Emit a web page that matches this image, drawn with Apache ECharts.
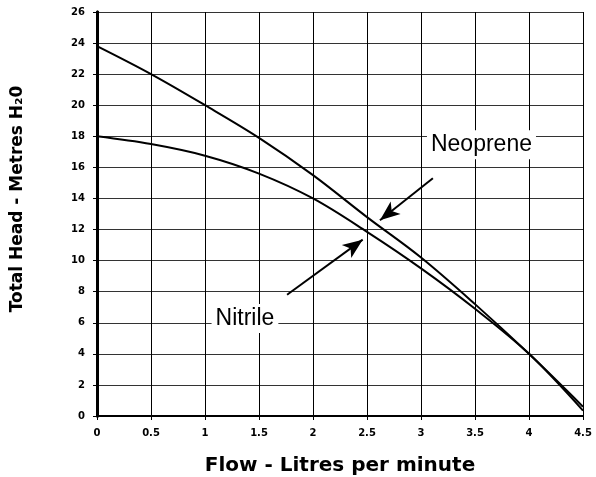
<!DOCTYPE html>
<html>
<head>
<meta charset="utf-8">
<script src="https://cdn.jsdelivr.net/npm/echarts@6/dist/echarts.min.js"></script>
<style>
  html, body { margin: 0; padding: 0; background: #fff; }
  #chart { width: 596px; height: 477px; }
</style>
</head>
<body>
<div id="chart"></div>
<script>
// flow in litres per minute
const flow = [0, 0.5, 1, 1.5, 2, 2.5, 3, 3.5, 4, 4.5]
// total head in metres
const neoprene = [23.8, 22.0, 20.0, 17.9, 15.5, 12.8, 10.2, 7.2, 4.0, 0.6]
const nitrile = [18.0, 17.5, 16.75, 15.6, 14.0, 11.85, 9.5, 6.9, 4.0, 0.35]

// annotation labels and arrows (data coords)
const labelNames = ['Neoprene', 'Nitrile']
const labelPos = [[3.56, 17.46], [1.37, 6.27]]
const arrowFrom = [[3.11, 15.3], [1.76, 7.8]]
const arrowTo = [[2.62, 12.6], [2.46, 11.35]]

const font = 'Liberation Sans, Arial, sans-serif'
const boldFont = 'DejaVu Sans, sans-serif'

const chart = echarts.init(document.getElementById('chart'), null, { renderer: 'canvas' })

function pairs(ys) {
  return flow.map((x, i) => [x, ys[i]])
}

const option = {
  animation: false,
  backgroundColor: '#fff',
  grid: { left: 97, top: 12, right: 13, bottom: 61, outerBoundsMode: 'none' },
  xAxis: [{
    type: 'value',
    min: 0, max: 4.5, interval: 0.5,
    name: 'Flow - Litres per minute',
    nameLocation: 'middle',
    nameGap: 40,
    nameTextStyle: { fontFamily: boldFont, fontSize: 20, fontWeight: 'bold', color: '#000' },
    axisLine: { show: true, onZero: false, lineStyle: { color: '#000', width: 2 } },
    axisTick: { show: true, length: 4, lineStyle: { color: '#000' } },
    axisLabel: { fontFamily: boldFont, fontSize: 10, fontWeight: 'bold', color: '#000', margin: 12 },
    splitLine: { show: true, lineStyle: { color: '#000', width: 1 } }
  }, {
    type: 'value', position: 'top',
    min: 0, max: 4.5,
    axisLine: { show: true, lineStyle: { color: '#000', width: 2 } },
    axisTick: { show: false }, axisLabel: { show: false }, splitLine: { show: false }
  }],
  yAxis: [{
    type: 'value',
    min: 0, max: 26, interval: 2,
    name: 'Total Head - Metres H\u20820',
    nameLocation: 'middle',
    nameGap: 71,
    nameTextStyle: { fontFamily: boldFont, fontSize: 17, fontWeight: 'bold', color: '#000', padding: [0, 0, 0, 30] },
    axisLine: { show: true, onZero: false, lineStyle: { color: '#000', width: 3 } },
    axisTick: { show: true, length: 4, lineStyle: { color: '#000' } },
    axisLabel: { fontFamily: boldFont, fontSize: 10, fontWeight: 'bold', color: '#000', margin: 12 },
    splitLine: { show: true, lineStyle: { color: '#333', width: 1 } }
  }, {
    type: 'value', position: 'right',
    min: 0, max: 26,
    axisLine: { show: true, lineStyle: { color: '#000', width: 3 } },
    axisTick: { show: false }, axisLabel: { show: false }, splitLine: { show: false }
  }],
  series: [{
    name: 'Neoprene',
    type: 'line',
    smooth: 0.35,
    symbol: 'none',
    data: pairs(neoprene),
    lineStyle: { color: '#000', width: 2 },
    z: 5,
    markLine: {
      silent: true,
      symbol: ['none', 'arrow'],
      symbolSize: [12, 20],
      lineStyle: { color: '#000', width: 2, type: 'solid' },
      label: { show: false },
      data: arrowFrom.map((p, i) => [{ coord: p }, { coord: arrowTo[i] }])
    },
    markPoint: {
      silent: true,
      symbol: 'rect',
      symbolSize: 1,
      itemStyle: { color: 'transparent' },
      data: labelNames.map((n, i) => ({
        coord: labelPos[i],
        label: {
          show: true, position: 'inside', formatter: n,
          fontFamily: font, fontSize: 23, color: '#000',
          backgroundColor: '#fff', padding: [3, 4]
        }
      }))
    }
  }, {
    name: 'Nitrile',
    type: 'line',
    smooth: 0.35,
    symbol: 'none',
    data: pairs(nitrile),
    lineStyle: { color: '#000', width: 2 },
    z: 5
  }]
}

chart.setOption(option)
</script>
</body>
</html>
